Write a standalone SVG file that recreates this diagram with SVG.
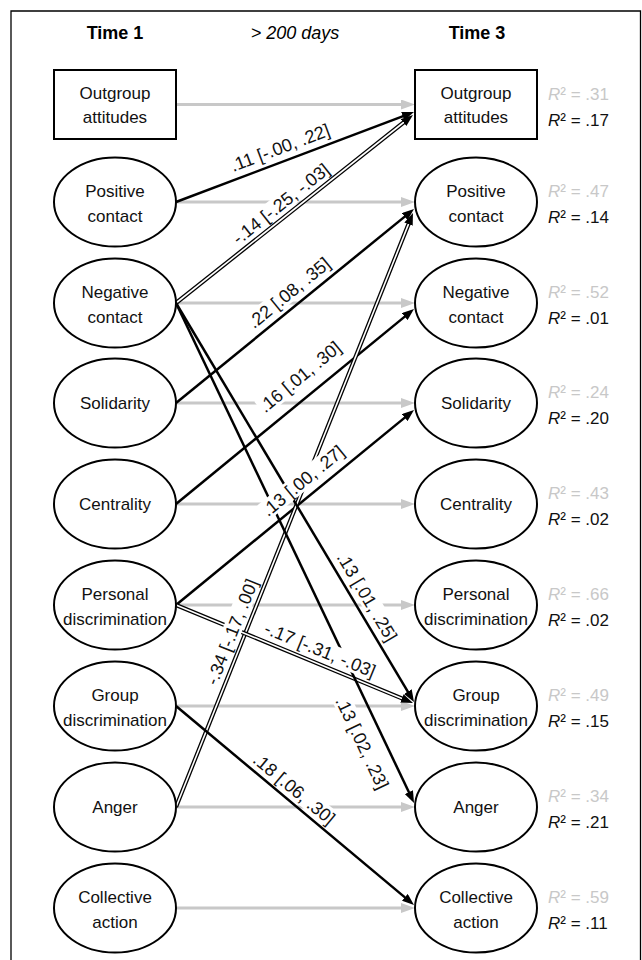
<svg xmlns="http://www.w3.org/2000/svg" width="642" height="960" viewBox="0 0 642 960">
<style>
.frame{fill:none;stroke:#000;stroke-width:1.3}
.node ellipse,.node rect{fill:#fff;stroke:#000;stroke-width:2}
.nt{font-family:"Liberation Sans",Arial,sans-serif;font-size:17px;text-anchor:middle;fill:#111}
.hd{font-family:"Liberation Sans",Arial,sans-serif;font-size:18px;text-anchor:middle;fill:#000}
.grey{fill:none;stroke:#c8c8c8;stroke-width:3;marker-end:url(#ag)}
.blk{fill:none;stroke:#000;stroke-width:2.5;marker-end:url(#ab)}
.dblo{fill:none;stroke:#000;stroke-width:4.2}
.dbli{fill:none;stroke:#fff;stroke-width:1.6;marker-end:url(#ab)}
.lbl rect{fill:#fff}
.lbl text{font-family:"Liberation Sans",Arial,sans-serif;font-size:18px;text-anchor:middle;fill:#111}
.r2{font-family:"Liberation Sans",Arial,sans-serif;font-size:17px}
.r2g{fill:#c8c8c8}
.r2b{fill:#111}
.it{font-style:italic}
</style>
<defs>
<marker id="ab" markerUnits="userSpaceOnUse" markerWidth="12" markerHeight="9" refX="4" refY="4.5" orient="auto"><path d="M0,0 L12,4.5 L0,9 z" fill="#000"/></marker>
<marker id="ag" markerUnits="userSpaceOnUse" markerWidth="14" markerHeight="10" refX="6" refY="5" orient="auto"><path d="M0,0 L14,5 L0,10 z" fill="#c8c8c8"/></marker>
</defs>
<rect width="642" height="960" fill="#fff"/>
<path class="frame" d="M11,962 V11 H640.5 V962"/>
<text class="hd" x="115" y="39" font-weight="bold">Time 1</text>
<text class="hd" x="295" y="39" font-style="italic">&gt; 200 days</text>
<text class="hd" x="477" y="39" font-weight="bold">Time 3</text>

<g id="connectors">
<path class="grey" d="M177,104.5 H407"/>
<path class="grey" d="M177,202 H407"/>
<path class="grey" d="M177,303 H407"/>
<path class="grey" d="M177,403 H407"/>
<path class="grey" d="M177,504 H407"/>
<path class="grey" d="M177,605 H407"/>
<path class="grey" d="M177,706 H407"/>
<path class="grey" d="M177,807 H407"/>
<path class="grey" d="M177,908 H407"/>

<path class="blk" d="M176,202 L406.5,114.8"/>
<path class="dblo" d="M176,303 L406.7,120"/>
<path class="dbli" d="M176,303 L406.7,120"/>
<path class="blk" d="M176,403 L407.8,214.1"/>
<path class="blk" d="M176,504 L407.8,314.1"/>
<path class="blk" d="M176,605 L407.8,415.1"/>
<path class="dblo" d="M176,807 L410,220.4"/>
<path class="dbli" d="M176,807 L410,220.4"/>
<path class="blk" d="M176,303 L409.9,695.1"/>
<path class="dblo" d="M176,605 L405.6,699.9"/>
<path class="dbli" d="M176,605 L405.6,699.9"/>
<path class="blk" d="M176,303 L410.6,795.8"/>
<path class="blk" d="M176,706 L407.9,899.9"/>

<g class="lbl" transform="translate(280,148) rotate(-20.7)"><rect x="-54" y="-10" width="108" height="19"/><text y="6">.11 [-.00, .22]</text></g>
<g class="lbl" transform="translate(281,204) rotate(-38.4)"><rect x="-60" y="-10" width="120" height="19"/><text y="6">-.14 [-.25, -.03]</text></g>
<g class="lbl" transform="translate(289,293) rotate(-39.3)"><rect x="-51" y="-10" width="102" height="19"/><text y="6">.22 [.08, .35]</text></g>
<g class="lbl" transform="translate(300,377) rotate(-39.5)"><rect x="-51" y="-10" width="102" height="19"/><text y="6">.16 [.01, .30]</text></g>
<g class="lbl" transform="translate(303,481) rotate(-39.3)"><rect x="-51" y="-10" width="102" height="19"/><text y="6">.13 [.00, .27]</text></g>
<g class="lbl" transform="translate(232,632) rotate(-68.25)"><rect x="-57" y="-10" width="114" height="19"/><text y="6">-.34 [-.17, .00]</text></g>
<g class="lbl" transform="translate(367,597) rotate(59.3)"><rect x="-51" y="-10" width="102" height="19"/><text y="6">.13 [.01, .25]</text></g>
<g class="lbl" transform="translate(320,650) rotate(22.3)"><rect x="-60" y="-10" width="120" height="19"/><text y="6">-.17 [-.31, -.03]</text></g>
<g class="lbl" transform="translate(362,743) rotate(64.6)"><rect x="-51" y="-10" width="102" height="19"/><text y="6">.13 [.02, .23]</text></g>
<g class="lbl" transform="translate(294,789) rotate(39.9)"><rect x="-51" y="-10" width="102" height="19"/><text y="6">.18 [.06, .30]</text></g>
</g>

<g id="t1-outgroup" class="node"><rect x="54" y="70" width="122" height="69"/><text class="nt" x="115" y="99">Outgroup</text><text class="nt" x="115" y="123">attitudes</text></g>
<g id="t1-positive" class="node"><ellipse cx="115" cy="202" rx="61" ry="44.5"/><text class="nt" x="115" y="197">Positive</text><text class="nt" x="115" y="222">contact</text></g>
<g id="t1-negative" class="node"><ellipse cx="115" cy="303" rx="61" ry="44.5"/><text class="nt" x="115" y="298">Negative</text><text class="nt" x="115" y="323">contact</text></g>
<g id="t1-solidarity" class="node"><ellipse cx="115" cy="403" rx="61" ry="44.5"/><text class="nt" x="115" y="409">Solidarity</text></g>
<g id="t1-centrality" class="node"><ellipse cx="115" cy="504" rx="61" ry="44.5"/><text class="nt" x="115" y="510">Centrality</text></g>
<g id="t1-personal" class="node"><ellipse cx="115" cy="605" rx="61" ry="44.5"/><text class="nt" x="115" y="600">Personal</text><text class="nt" x="115" y="625">discrimination</text></g>
<g id="t1-group" class="node"><ellipse cx="115" cy="706" rx="61" ry="44.5"/><text class="nt" x="115" y="701">Group</text><text class="nt" x="115" y="726">discrimination</text></g>
<g id="t1-anger" class="node"><ellipse cx="115" cy="807" rx="61" ry="44.5"/><text class="nt" x="115" y="813">Anger</text></g>
<g id="t1-collective" class="node"><ellipse cx="115" cy="908" rx="61" ry="44.5"/><text class="nt" x="115" y="903">Collective</text><text class="nt" x="115" y="928">action</text></g>

<g id="t3-outgroup" class="node"><rect x="415" y="70" width="122" height="69"/><text class="nt" x="476" y="99">Outgroup</text><text class="nt" x="476" y="123">attitudes</text>
<text class="r2 r2g" x="548" y="100"><tspan class="it">R</tspan>² = .31</text><text class="r2 r2b" x="548" y="126"><tspan class="it">R</tspan>² = .17</text></g>
<g id="t3-positive" class="node"><ellipse cx="476" cy="202" rx="61" ry="44.5"/><text class="nt" x="476" y="197">Positive</text><text class="nt" x="476" y="222">contact</text>
<text class="r2 r2g" x="548" y="197"><tspan class="it">R</tspan>² = .47</text><text class="r2 r2b" x="548" y="223"><tspan class="it">R</tspan>² = .14</text></g>
<g id="t3-negative" class="node"><ellipse cx="476" cy="303" rx="61" ry="44.5"/><text class="nt" x="476" y="298">Negative</text><text class="nt" x="476" y="323">contact</text>
<text class="r2 r2g" x="548" y="298"><tspan class="it">R</tspan>² = .52</text><text class="r2 r2b" x="548" y="324"><tspan class="it">R</tspan>² = .01</text></g>
<g id="t3-solidarity" class="node"><ellipse cx="476" cy="403" rx="61" ry="44.5"/><text class="nt" x="476" y="409">Solidarity</text>
<text class="r2 r2g" x="548" y="398"><tspan class="it">R</tspan>² = .24</text><text class="r2 r2b" x="548" y="424"><tspan class="it">R</tspan>² = .20</text></g>
<g id="t3-centrality" class="node"><ellipse cx="476" cy="504" rx="61" ry="44.5"/><text class="nt" x="476" y="510">Centrality</text>
<text class="r2 r2g" x="548" y="499"><tspan class="it">R</tspan>² = .43</text><text class="r2 r2b" x="548" y="525"><tspan class="it">R</tspan>² = .02</text></g>
<g id="t3-personal" class="node"><ellipse cx="476" cy="605" rx="61" ry="44.5"/><text class="nt" x="476" y="600">Personal</text><text class="nt" x="476" y="625">discrimination</text>
<text class="r2 r2g" x="548" y="600"><tspan class="it">R</tspan>² = .66</text><text class="r2 r2b" x="548" y="626"><tspan class="it">R</tspan>² = .02</text></g>
<g id="t3-group" class="node"><ellipse cx="476" cy="706" rx="61" ry="44.5"/><text class="nt" x="476" y="701">Group</text><text class="nt" x="476" y="726">discrimination</text>
<text class="r2 r2g" x="548" y="701"><tspan class="it">R</tspan>² = .49</text><text class="r2 r2b" x="548" y="727"><tspan class="it">R</tspan>² = .15</text></g>
<g id="t3-anger" class="node"><ellipse cx="476" cy="807" rx="61" ry="44.5"/><text class="nt" x="476" y="813">Anger</text>
<text class="r2 r2g" x="548" y="802"><tspan class="it">R</tspan>² = .34</text><text class="r2 r2b" x="548" y="828"><tspan class="it">R</tspan>² = .21</text></g>
<g id="t3-collective" class="node"><ellipse cx="476" cy="908" rx="61" ry="44.5"/><text class="nt" x="476" y="903">Collective</text><text class="nt" x="476" y="928">action</text>
<text class="r2 r2g" x="548" y="903"><tspan class="it">R</tspan>² = .59</text><text class="r2 r2b" x="548" y="929"><tspan class="it">R</tspan>² = .11</text></g>
</svg>
